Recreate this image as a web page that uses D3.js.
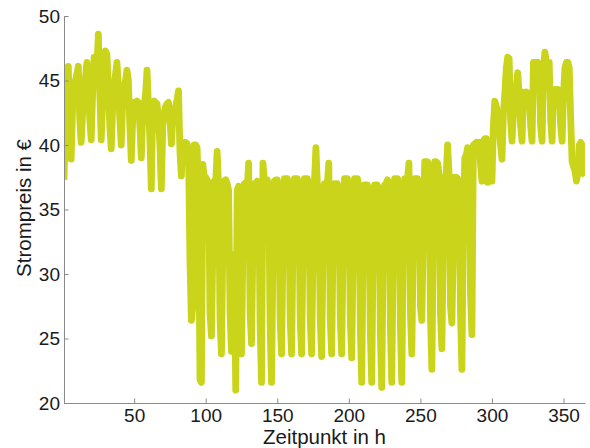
<!DOCTYPE html>
<html>
<head>
<meta charset="utf-8">
<script src="https://cdn.jsdelivr.net/npm/d3@7"></script>
<style>
  html, body { margin: 0; padding: 0; background: #fff; }
  svg { display: block; }
  text { font-family: "Liberation Sans", Arial, Helvetica, sans-serif; fill: #1a1a1a; }
</style>
</head>
<body>
<svg id="chart" width="590" height="448"></svg>
<script>
// Daily electricity price (EUR), day 1 .. 365, one row per week (Mon..Sun)
const price = [
  37.3, 42.0, 44.5, 46.1, 41.5, 38.9,
  43.0, 44.0, 45.0, 45.5, 46.1, 42.0, 40.2,
  42.5, 44.0, 45.2, 46.4, 44.5, 42.0, 40.4,
  44.0, 46.8, 45.0, 46.0, 48.6, 44.0, 40.4,
  43.5, 46.0, 47.3, 47.0, 44.5, 41.5, 39.7,
  43.0, 44.5, 45.5, 46.4, 44.5, 42.0, 40.0,
  43.5, 44.5, 45.0, 45.8, 45.0, 41.5, 38.8,
  42.0, 43.3, 43.3, 43.4, 43.3, 41.5, 39.0,
  42.5, 43.0, 44.0, 45.8, 43.0, 40.5, 36.6,
  43.3, 43.4, 43.3, 43.2, 42.0, 40.0, 36.6,
  41.5, 42.5, 43.0, 43.2, 43.3, 42.0, 40.1,
  42.0, 42.5, 43.0, 43.5, 44.2, 39.5, 37.6,
  40.1, 40.2, 40.2, 40.1, 39.5, 31.0, 26.4,
  27.5, 40.0, 40.0, 39.8, 36.0, 21.8, 21.6,
  38.5, 37.5, 37.5, 37.3, 37.0, 27.0, 25.2,
  32.0, 37.2, 37.2, 39.5, 36.8, 26.5, 23.8,
  32.5, 37.2, 37.3, 37.0, 36.5, 27.0, 24.0,
  31.5, 30.0, 21.0, 36.5, 36.8, 26.5, 23.8,
  32.0, 37.0, 37.1, 36.5, 38.6, 27.0, 24.6,
  32.5, 37.0, 37.0, 37.2, 36.6, 26.0, 21.6,
  38.6, 37.2, 37.2, 37.3, 36.6, 26.0, 21.6,
  31.5, 37.2, 37.3, 37.3, 36.6, 26.5, 23.8,
  32.0, 37.4, 37.4, 37.4, 36.8, 26.5, 23.8,
  32.5, 37.4, 37.4, 37.4, 36.8, 26.5, 23.8,
  32.0, 37.4, 37.4, 37.4, 36.8, 26.5, 23.8,
  31.5, 37.2, 39.8, 37.0, 36.6, 26.5, 23.6,
  32.0, 37.0, 37.0, 37.0, 38.6, 26.5, 23.8,
  32.5, 37.0, 37.0, 37.0, 36.6, 26.5, 23.8,
  32.0, 37.4, 37.4, 37.4, 36.8, 26.5, 23.5,
  31.5, 37.4, 37.4, 37.4, 36.8, 26.0, 21.6,
  32.0, 36.9, 36.9, 36.9, 36.4, 25.5, 21.6,
  32.5, 36.9, 36.9, 36.9, 36.4, 25.5, 21.2,
  32.0, 36.9, 37.0, 37.3, 37.0, 26.0, 21.6,
  31.5, 37.4, 37.4, 37.4, 36.8, 26.0, 21.6,
  32.0, 37.4, 37.4, 37.4, 38.6, 27.0, 23.8,
  32.5, 37.4, 37.4, 37.4, 36.8, 27.5, 26.4,
  33.0, 38.7, 38.7, 38.7, 38.2, 27.0, 22.6,
  33.0, 38.7, 38.7, 38.6, 37.8, 27.0, 24.2,
  32.5, 37.5, 37.6, 40.0, 37.8, 27.5, 26.2,
  32.0, 37.5, 37.5, 37.4, 36.8, 27.0, 22.6,
  34.0, 39.0, 39.2, 39.8, 38.8, 28.5, 25.3,
  40.0, 40.1, 40.2, 40.1, 40.2, 38.5, 37.2,
  40.3, 40.5, 40.5, 37.1, 39.8, 38.0, 37.2,
  41.5, 43.4, 43.0, 42.5, 41.5, 40.0, 38.9,
  42.5, 44.0, 46.0, 46.8, 46.7, 42.0, 40.3,
  42.5, 43.5, 44.5, 45.6, 44.0, 41.5, 40.3,
  44.1, 44.0, 44.1, 44.0, 43.8, 41.5, 40.3,
  46.4, 46.4, 46.3, 46.4, 45.5, 41.5, 40.3,
  46.0, 47.2, 46.4, 46.4, 46.4, 42.0, 40.3,
  44.3, 44.3, 44.2, 44.3, 44.0, 41.5, 40.3,
  44.0, 46.0, 46.4, 46.4, 46.0, 42.0, 38.7,
  38.3, 38.0, 37.2, 37.8, 40.0, 40.2, 40.0,
  37.8, 37.6
];
const days = price.map((_, i) => i + 1);

const xTicks = [50, 100, 150, 200, 250, 300, 350];
const yTicks = [20, 25, 30, 35, 40, 45, 50];
const xLabel = "Zeitpunkt in h";
const yLabel = "Strompreis in €";

const svg = d3.select("#chart");
const plotLeft = 64, plotRight = 585, plotTop = 16, plotBottom = 403;

const x = d3.scaleLinear().domain([1, 365]).range([plotLeft, plotRight]);
const y = d3.scaleLinear().domain([20, 50]).range([plotBottom, plotTop]);

svg.append("defs").append("clipPath").attr("id", "plotArea")
  .append("rect")
  .attr("x", plotLeft).attr("y", plotTop)
  .attr("width", plotRight - plotLeft).attr("height", plotBottom - plotTop);

const line = d3.line()
  .x((d, i) => x(days[i]))
  .y(d => y(d));

svg.append("path")
  .datum(price)
  .attr("clip-path", "url(#plotArea)")
  .attr("fill", "none")
  .attr("stroke", "#c9d41a")
  .attr("stroke-width", 6.8)
  .attr("stroke-linejoin", "round")
  .attr("stroke-linecap", "butt")
  .attr("d", line);

// Axes: ticks point into the plot, no box on top/right
const xAxis = d3.axisBottom(x).tickValues(xTicks).tickSize(-4.5).tickSizeOuter(0).tickPadding(6);
const yAxis = d3.axisLeft(y).tickValues(yTicks).tickSize(-4.5).tickSizeOuter(0).tickPadding(4);

const gx = svg.append("g").attr("transform", `translate(0,${plotBottom})`).call(xAxis);
const gy = svg.append("g").attr("transform", `translate(${plotLeft},0)`).call(yAxis);

[gx, gy].forEach(g => {
  g.select(".domain").attr("stroke", "#8a8a8a").attr("stroke-width", 1);
  g.selectAll(".tick line").attr("stroke", "#8a8a8a").attr("stroke-width", 1);
  g.selectAll(".tick text")
    .attr("fill", "#1a1a1a")
    .style("font-size", "19px")
    .style("font-family", "'Liberation Sans', Arial, sans-serif");
});

svg.append("text")
  .attr("x", (plotLeft + plotRight) / 2)
  .attr("y", 443.5)
  .attr("text-anchor", "middle")
  .style("font-size", "20.5px")
  .text(xLabel);

svg.append("text")
  .attr("transform", `translate(31,208) rotate(-90)`)
  .attr("text-anchor", "middle")
  .style("font-size", "20.5px")
  .text(yLabel);
</script>
</body>
</html>
